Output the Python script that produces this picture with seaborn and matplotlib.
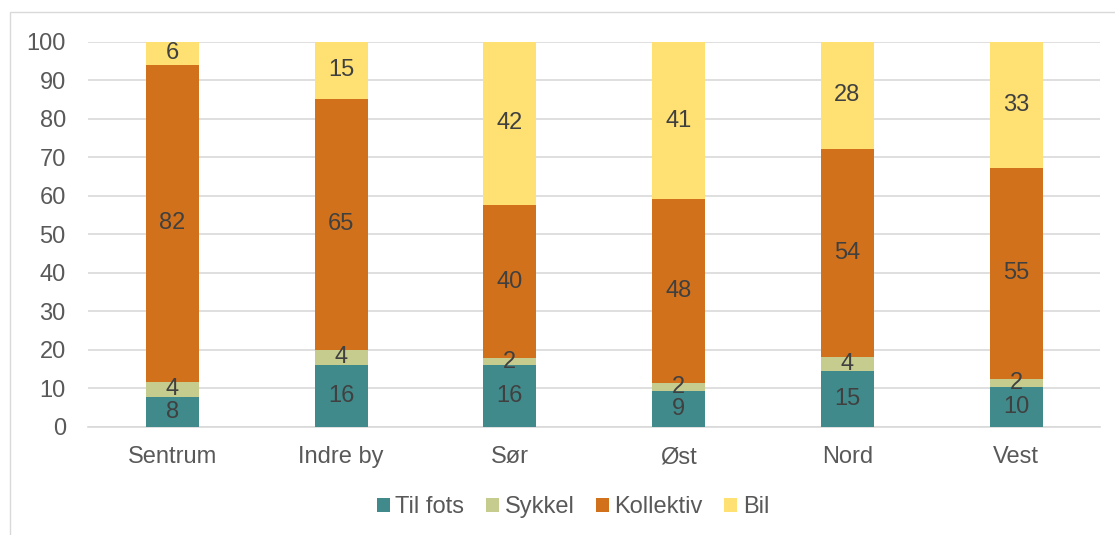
import numpy as np
import pandas as pd
import matplotlib
matplotlib.use("Agg")
import matplotlib.pyplot as plt
from matplotlib.patches import Rectangle
import seaborn as sns

# Data (shares in percent)
areas = ["Sentrum", "Indre by", "Sør", "Øst", "Nord", "Vest"]
til_fots = [7.8, 16.1, 16.1, 9.4, 14.6, 10.3]
sykkel = [3.9, 3.9, 1.7, 1.9, 3.7, 2.1]
kollektiv = [82.4, 65.2, 39.9, 47.9, 54.0, 55.0]
bil = [5.9, 14.8, 42.3, 40.8, 27.7, 32.6]

modes = ["Til fots", "Sykkel", "Kollektiv", "Bil"]
colors = ["#408A8C", "#C5CC8E", "#D2711C", "#FEE073"]

sns.set_theme(style="white")
plt.rcParams["font.family"] = ["Liberation Sans", "DejaVu Sans"]

df = pd.DataFrame({"area": areas, "Til fots": til_fots, "Sykkel": sykkel,
                   "Kollektiv": kollektiv, "Bil": bil})
cum = df[modes].cumsum(axis=1)

fig = plt.figure(figsize=(11.15, 5.35), dpi=100)
# outer chart border
fig.patches.append(Rectangle((10 / 1115, -0.1), 1.2, 1 - 12 / 535 + 0.1,
                             transform=fig.transFigure, fill=False,
                             edgecolor="#D9D9D9", linewidth=1))
ax = fig.add_axes([0.0789, 0.2019, 0.908, 0.7196])

# Stacked bars: draw the tallest cumulative first, then overlay
for mode, col in zip(reversed(modes), reversed(colors)):
    sns.barplot(x=df["area"], y=cum[mode], color=col, width=0.314,
                saturation=1, ax=ax, zorder=3, label=mode,
                edgecolor="none", linewidth=0)

# Segment labels
for i in range(len(areas)):
    base = 0
    for mode in modes:
        v = df.loc[i, mode]
        ax.text(i, base + v / 2, f"{v:.0f}", ha="center", va="center",
                fontsize=17, color="#404040", zorder=5)
        base += v

ax.set_ylim(0, 100)
ax.set_xlim(-0.5, 5.5)
ax.set_yticks(np.arange(0, 101, 10))
ax.yaxis.grid(True, color="#D9D9D9", linewidth=1.2, zorder=0)
ax.set_axisbelow(True)
for s in ["top", "right", "left"]:
    ax.spines[s].set_visible(False)
ax.spines["bottom"].set_color("#D9D9D9")
ax.spines["bottom"].set_linewidth(1.2)
ax.set_xlabel("")
ax.set_ylabel("")
ax.tick_params(axis="y", length=0, pad=16, labelsize=17, labelcolor="#595959")
ax.tick_params(axis="x", length=0, pad=26, labelsize=17, labelcolor="#595959")
for lab in ax.get_xticklabels():
    lab.set_va("baseline")

handles, labels = ax.get_legend_handles_labels()
order = [labels.index(m) for m in modes]
if ax.legend_:
    ax.legend_.remove()
fig.legend([handles[k] for k in order], modes, loc="center",
           bbox_to_anchor=(573 / 1115, 1 - 507 / 535), ncol=4, frameon=False,
           fontsize=17, handlelength=0.55, handleheight=0.55,
           handletextpad=0.25, columnspacing=0.9, labelcolor="#595959")

fig.savefig("out.png", dpi=100)
